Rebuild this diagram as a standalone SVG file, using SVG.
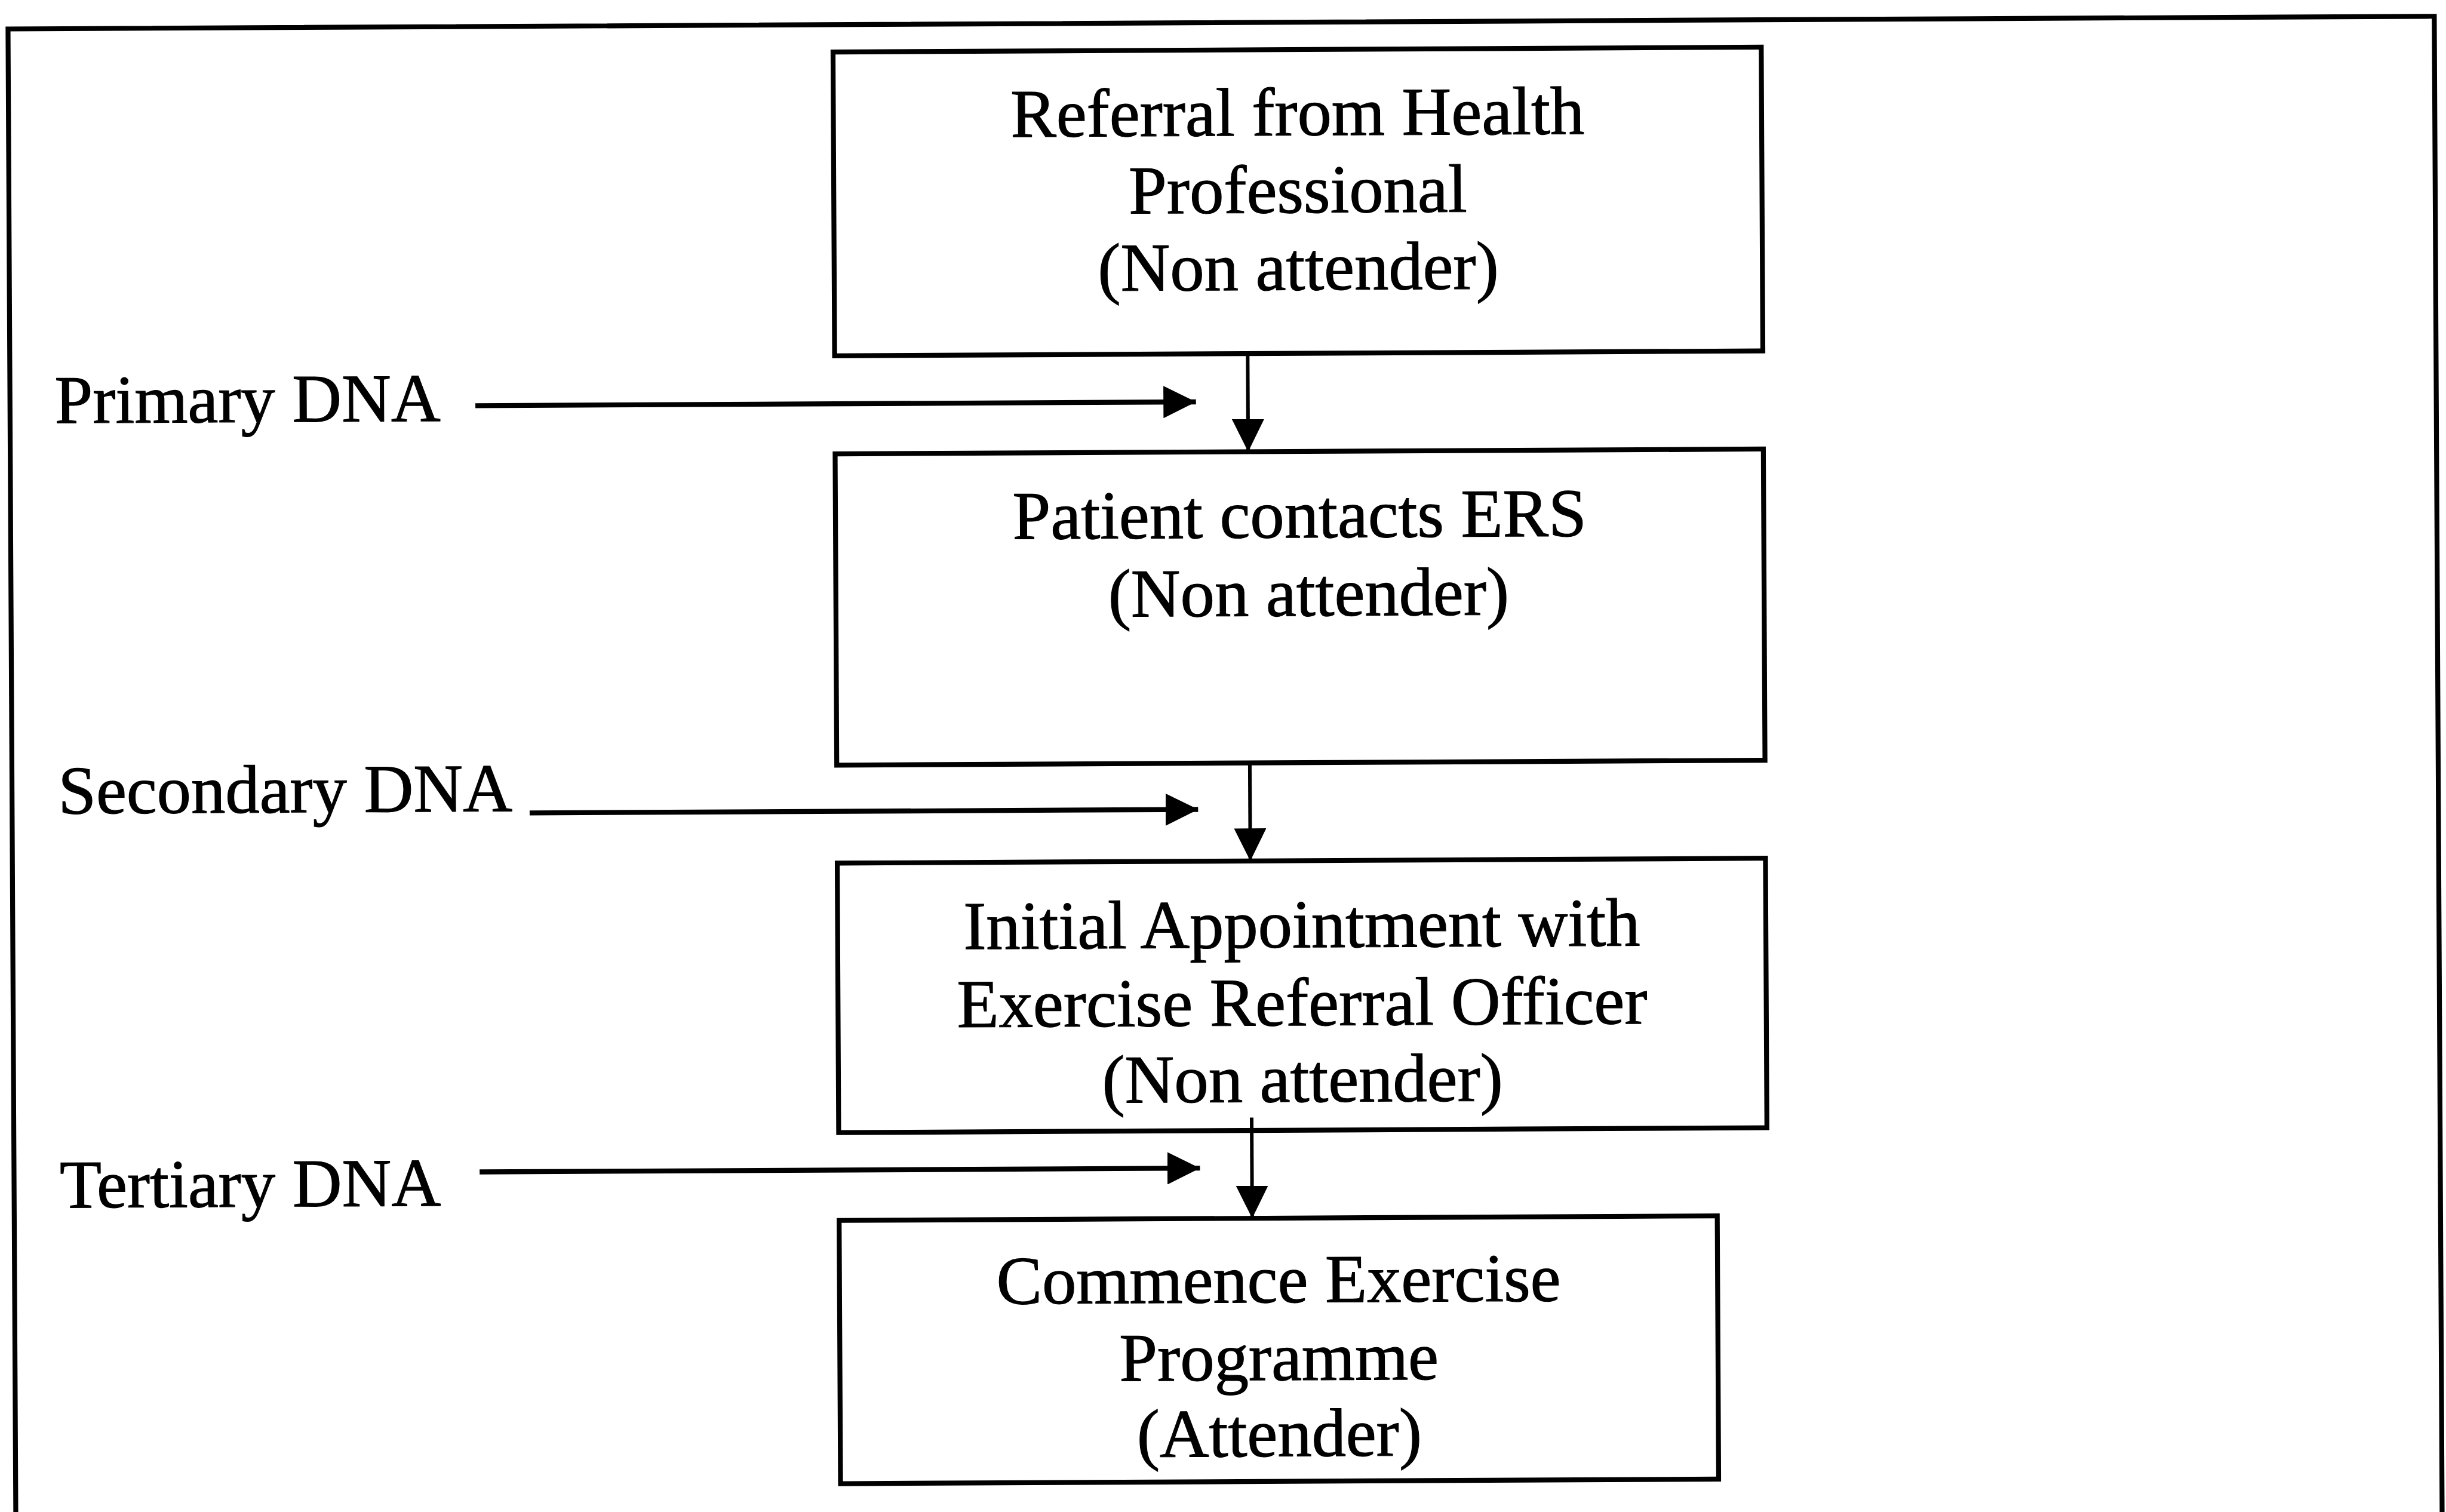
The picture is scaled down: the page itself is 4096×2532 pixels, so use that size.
<svg xmlns="http://www.w3.org/2000/svg" width="4096" height="2532" viewBox="0 0 4096 2532">
  <style>
    .frame { fill: none; stroke: #000; stroke-width: 8.2; }
    .box { fill: #fff; stroke: #000; stroke-width: 8.2; }
    .txt { font-family: "Liberation Serif", "Times New Roman", serif; font-size: 114.6px; fill: #000; stroke: #000; stroke-width: 1.2; }
    .mid { text-anchor: middle; }
    .flow-h { fill: none; stroke: #000; stroke-width: 8.3; marker-end: url(#head); }
    .flow-v { fill: none; stroke: #000; stroke-width: 6; marker-end: url(#head); }
  </style>
  <defs>
    <marker id="head" markerUnits="userSpaceOnUse" viewBox="0 0 54.5 54" refX="54.5" refY="27" markerWidth="54.5" markerHeight="54" orient="auto">
      <path d="M0,0 L54.5,27 L0,54 Z" fill="#000"/>
    </marker>
  </defs>

  <rect x="0" y="0" width="4096" height="2532" fill="#fff"/>

  <!-- whole sheet sits slightly tilted -->
  <g transform="rotate(-0.3 2180 1297.5)">
    <rect id="frame" class="frame" x="20" y="37.2" width="4063" height="2545"/>

    <g id="referral">
      <rect class="box" x="1401.3" y="83" width="1554.4" height="508.7"/>
      <text class="txt mid" x="2178.5" y="226.6">Referral from Health</text>
      <text class="txt mid" x="2178.5" y="356">Professional</text>
      <text class="txt mid" x="2178.5" y="485.3">(Non attender)</text>
    </g>

    <g id="contact">
      <rect class="box" x="1401.3" y="756" width="1554.4" height="521.2"/>
      <text class="txt mid" x="2178.5" y="900.1">Patient contacts ERS</text>
      <text class="txt mid" x="2193" y="1031.1">(Non attender)</text>
    </g>

    <g id="appointment">
      <rect class="box" x="1401.3" y="1441.3" width="1554.4" height="451.3"/>
      <text class="txt mid" x="2178.5" y="1586.4">Initial Appointment with</text>
      <text class="txt mid" x="2178.5" y="1717">Exercise Referral Officer</text>
      <text class="txt mid" x="2178.5" y="1845">(Non attender)</text>
    </g>

    <g id="programme">
      <rect class="box" x="1401.3" y="2039.7" width="1470.5" height="440.8"/>
      <text class="txt mid" x="2136.6" y="2180.7">Commence Exercise</text>
      <text class="txt mid" x="2136.6" y="2310.9">Programme</text>
      <text class="txt mid" x="2136.6" y="2438.4">(Attender)</text>
    </g>

    <g id="label-primary">
      <text class="txt" x="94.8" y="697.5">Primary DNA</text>
    </g>
    <g id="label-secondary">
      <text class="txt" x="97.1" y="1351.5">Secondary DNA</text>
    </g>
    <g id="label-tertiary">
      <text class="txt" x="96.5" y="2011.5">Tertiary DNA</text>
    </g>

    <g id="connectors">
      <line class="flow-h" x1="799.3" y1="672.1" x2="2006" y2="672.1"/>
      <line class="flow-h" x1="886.6" y1="1354.6" x2="2006" y2="1354.6"/>
      <line class="flow-h" x1="799.7" y1="1955.3" x2="2006" y2="1955.3"/>
      <line class="flow-v" x1="2093" y1="591.7" x2="2093" y2="756"/>
      <line class="flow-v" x1="2093" y1="1277.2" x2="2093" y2="1441.3"/>
      <line class="flow-v" x1="2093" y1="1871" x2="2093" y2="2039.7"/>
    </g>
  </g>
</svg>
